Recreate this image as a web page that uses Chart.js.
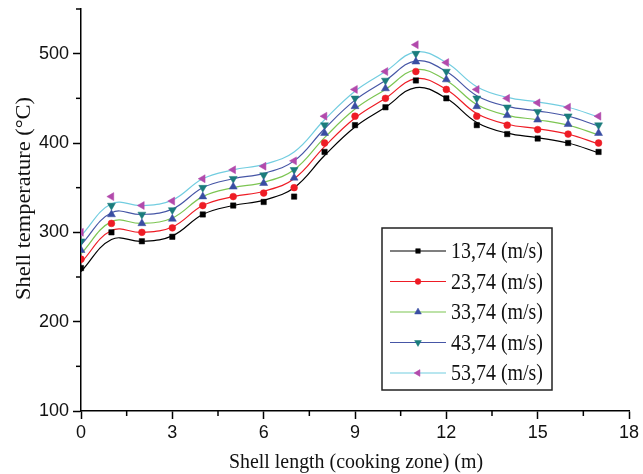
<!DOCTYPE html>
<html lang="en">
<head>
<meta charset="UTF-8">
<title>Shell temperature</title>
<style>
  html, body { margin: 0; padding: 0; background: #fff; }
  #wrap { width: 643px; height: 474px; }
</style>
</head>
<body>
<div id="wrap"><canvas id="chart" width="643" height="474"></canvas></div>
<script src="https://cdn.jsdelivr.net/npm/chart.js"></script>
<script>
// shell length positions (m)
const positions = [0, 1, 2, 3, 4, 5, 6, 7, 8, 9, 10, 11, 12, 13, 14, 15, 16, 17];
const speeds = ['13,74 (m/s)', '23,74 (m/s)', '33,74 (m/s)', '43,74 (m/s)', '53,74 (m/s)'];

// measured points (markers)
const temp1374 = [260, 300, 290, 295, 320, 330, 334, 340, 390, 420, 440, 470, 450, 420, 410, 405, 400, 390];
const temp2374 = [270, 310, 300, 305, 330, 340, 344, 350, 400, 430, 450, 480, 460, 430, 420, 415, 410, 400];
const temp3374 = [280, 320, 310, 315, 340, 351, 355, 361, 411, 441, 461, 491, 471, 441, 431, 426, 421, 411];
const temp4374 = [290, 330, 320, 325, 350, 360, 364, 370, 420, 450, 470, 500, 480, 450, 440, 435, 430, 420];
const temp5374 = [300, 340, 330, 335, 360, 370, 374, 380, 430, 460, 480, 510, 490, 460, 450, 445, 440, 430];

// smoothed curves
const curve1374 = [256, 292, 290, 296, 320, 330, 336, 350, 386, 418, 440, 462, 450, 423, 411, 406, 400, 389];
const curve2374 = [266, 302, 300, 306, 330, 340, 346, 360, 396, 428, 450, 472, 460, 433, 421, 416, 410, 399];
const curve3374 = [276, 312, 310, 316, 340, 350, 356, 370, 406, 438, 460, 482, 470, 443, 431, 426, 420, 409];
const curve4374 = [286, 322, 320, 326, 350, 360, 366, 380, 416, 448, 470, 492, 480, 453, 441, 436, 430, 419];
const curve5374 = [296, 332, 330, 336, 360, 370, 376, 390, 426, 458, 480, 502, 490, 463, 451, 446, 440, 429];

const points = [temp1374, temp2374, temp3374, temp4374, temp5374];
const curves = [curve1374, curve2374, curve3374, curve4374, curve5374];

const lineColors = ['#000000', '#ee1c25', '#7cc552', '#4656a6', '#72cde0'];
const markerColors = ['#000000', '#ee1c25', '#3a4ea3', '#1b7c7c', '#b24aac'];
const markers = [
  { style: 'rect', radius: 3.8, rotation: 0 },
  { style: 'circle', radius: 3.4, rotation: 0 },
  { style: 'triangle', radius: 4.6, rotation: 0 },
  { style: 'triangle', radius: 4.6, rotation: 180 },
  { style: 'triangle', radius: 4.6, rotation: -90 }
];

const toXY = arr => arr.map((v, i) => ({ x: positions[i], y: v }));

const datasets = [];
curves.forEach((c, i) => {
  datasets.push({
    label: speeds[i] + ' fit',
    data: toXY(c),
    borderColor: lineColors[i],
    borderWidth: 1.2,
    pointRadius: 0,
    tension: 0.4,
    fill: false,
    order: 2
  });
});
points.forEach((p, i) => {
  datasets.push({
    label: speeds[i],
    data: toXY(p),
    showLine: false,
    pointStyle: markers[i].style,
    pointRadius: markers[i].radius,
    pointRotation: markers[i].rotation,
    pointBackgroundColor: markerColors[i],
    pointBorderColor: markerColors[i],
    pointBorderWidth: 0.5,
    order: 1
  });
});

function fitText(ctx, text, x, y, size, width) {
  ctx.font = size + 'px "Liberation Serif", "Times New Roman", serif';
  const w = ctx.measureText(text).width;
  ctx.save();
  ctx.translate(x, y);
  ctx.scale(width / w, 1);
  ctx.fillText(text, 0, 0);
  ctx.restore();
}

const extras = {
  id: 'extras',
  afterDraw(chart) {
    const ctx = chart.ctx;
    const xs = chart.scales.x, ys = chart.scales.y;
    ctx.save();
    // minor ticks
    ctx.strokeStyle = '#000';
    ctx.lineWidth = 1.5;
    for (let v = 1.5; v < 18; v += 3) {
      const px = xs.getPixelForValue(v);
      ctx.beginPath(); ctx.moveTo(px, ys.bottom); ctx.lineTo(px, ys.bottom + 5); ctx.stroke();
    }
    for (let v = 150; v <= 550; v += 100) {
      const py = ys.getPixelForValue(v);
      ctx.beginPath(); ctx.moveTo(xs.left, py); ctx.lineTo(xs.left - 5, py); ctx.stroke();
    }

    // axis titles
    ctx.fillStyle = '#111';
    ctx.textAlign = 'left';
    ctx.textBaseline = 'middle';
    fitText(ctx, 'Shell length (cooking zone) (m)', 229, 462, 22, 254);
    ctx.save();
    ctx.translate(24, 300);
    ctx.rotate(-Math.PI / 2);
    fitText(ctx, 'Shell temperature (\u00B0C)', 0, 0, 22, 203);
    ctx.restore();

    // legend box
    const lg = { left: 382, top: 228, right: 552, bottom: 390 };
    ctx.fillStyle = '#fff';
    ctx.fillRect(lg.left, lg.top, lg.right - lg.left, lg.bottom - lg.top);
    ctx.strokeStyle = '#222';
    ctx.lineWidth = 1.5;
    ctx.strokeRect(lg.left, lg.top, lg.right - lg.left, lg.bottom - lg.top);
    speeds.forEach((s, i) => {
      const y = 251 + i * 30.5;
      ctx.strokeStyle = lineColors[i];
      ctx.lineWidth = 1.2;
      ctx.beginPath(); ctx.moveTo(390, y); ctx.lineTo(446, y); ctx.stroke();
      ctx.fillStyle = markerColors[i];
      ctx.strokeStyle = markerColors[i];
      ctx.lineWidth = 0.5;
      Chart.helpers.drawPoint(ctx, {
        pointStyle: markers[i].style,
        radius: markers[i].radius * 0.85,
        rotation: markers[i].rotation,
        borderWidth: 0.5
      }, 418, y);
      ctx.fillStyle = '#111';
      ctx.textBaseline = 'middle';
      fitText(ctx, s, 451, y + 1, 23, 92);
    });
    ctx.restore();
  }
};

new Chart(document.getElementById('chart'), {
  type: 'line',
  data: { datasets: datasets },
  options: {
    responsive: false,
    animation: false,
    layout: { padding: { left: 0, top: 9, right: 14, bottom: 0 } },
    plugins: { legend: { display: false }, tooltip: { enabled: false } },
    scales: {
      x: {
        type: 'linear',
        min: 0,
        max: 18,
        afterFit: s => { s.height = 63; s.paddingLeft = 0; s.paddingRight = 0; },
        ticks: { stepSize: 3, padding: 3, color: '#111', font: { family: '"Liberation Sans", Arial, sans-serif', size: 18 } },
        grid: { drawOnChartArea: false, drawTicks: true, tickLength: 8, tickWidth: 1.5, tickColor: '#000' },
        border: { display: true, color: '#000', width: 1.5 }
      },
      y: {
        min: 100,
        max: 550,
        afterFit: s => { s.width = 81; s.paddingTop = 0; s.paddingBottom = 0; },
        ticks: { stepSize: 100, includeBounds: false, padding: 4, color: '#111', font: { family: '"Liberation Sans", Arial, sans-serif', size: 18 } },
        grid: { drawOnChartArea: false, drawTicks: true, tickLength: 8, tickWidth: 1.5, tickColor: '#000' },
        border: { display: true, color: '#000', width: 1.5 }
      }
    }
  },
  plugins: [extras]
});
</script>
</body>
</html>
